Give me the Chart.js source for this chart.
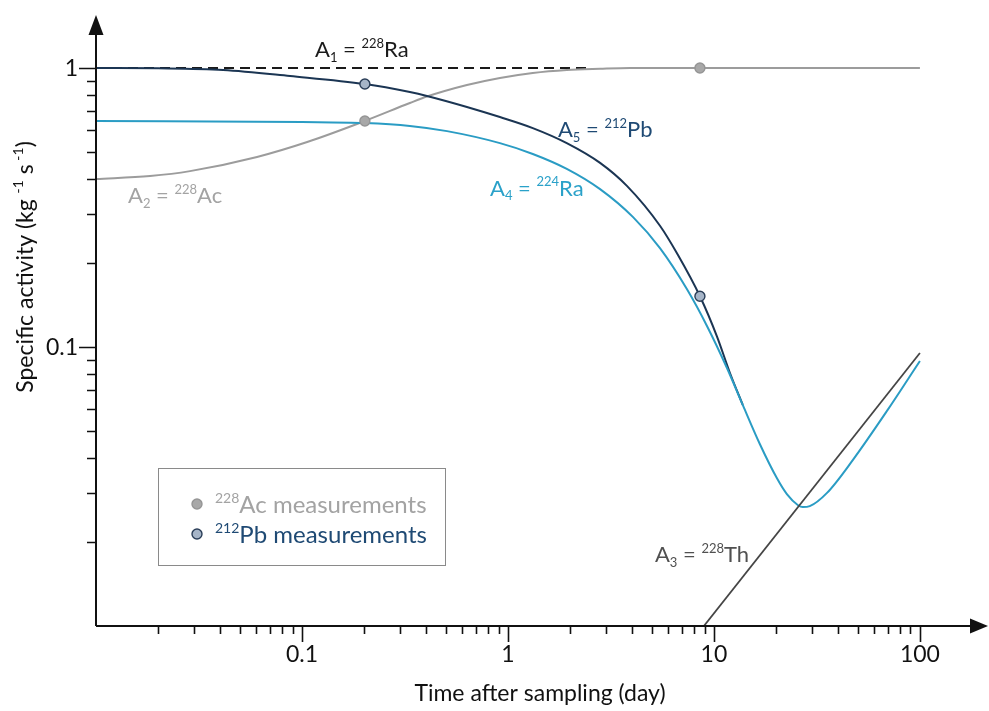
<!DOCTYPE html>
<html>
<head>
<meta charset="utf-8">
<script src="https://cdn.jsdelivr.net/npm/chart.js@4.4.1/dist/chart.umd.min.js"></script>
<style>
  html, body { margin: 0; padding: 0; background: #ffffff; }
  #wrap { width: 989px; height: 711px; position: relative; }
</style>
</head>
<body>
<div id="wrap"><canvas id="chart" width="989" height="711"></canvas></div>
<script>
// ---- Activity curves (time in days, specific activity) ----
const ra228Days = [0.01, 2.4];
const ra228Act  = [1.0, 1.0];

const ac228Days = [0.01, 0.0183, 0.0286, 0.0605, 0.106, 0.202, 0.334, 0.404, 0.632, 0.914, 1.32, 1.93, 2.8, 3.91, 8.55, 100];
const ac228Act  = [0.4, 0.41, 0.427, 0.48, 0.543, 0.646, 0.749, 0.79, 0.869, 0.921, 0.96, 0.984, 0.994, 1.0, 1.0, 1.0];

const pb212Days = [0.01, 0.02, 0.0414, 0.0875, 0.202, 0.334, 0.404, 0.632, 0.914, 1.32, 1.93, 2.8, 3.78, 5.47, 6.68, 8.55, 10.35, 11.96, 13.8];
const pb212Act  = [1.0, 0.9975, 0.984, 0.936, 0.876, 0.82, 0.794, 0.725, 0.667, 0.609, 0.538, 0.457, 0.378, 0.272, 0.214, 0.152, 0.109, 0.0807, 0.062];

const ra224Days = [0.01, 0.1, 0.202, 0.334, 0.506, 0.914, 1.32, 1.93, 2.8, 4.05, 5.47, 7.4, 9.25, 11.57, 13.8, 16.7, 20.2, 22.6, 25.6, 27.0, 29.2, 35.4, 47.3, 69.2, 100];
const ra224Act  = [0.646, 0.64, 0.635, 0.62, 0.594, 0.538, 0.492, 0.435, 0.368, 0.292, 0.226, 0.161, 0.119, 0.0841, 0.062, 0.0449, 0.0339, 0.0297, 0.0271, 0.0267, 0.0269, 0.03, 0.0394, 0.059, 0.0891];

const th228Days = [8.94, 100];
const th228Act  = [0.01, 0.0952];

// ---- Measurements ----
const ac228MeasDays = [0.202, 8.55];
const ac228MeasAct  = [0.646, 1.0];
const pb212MeasDays = [0.202, 8.55];
const pb212MeasAct  = [0.876, 0.152];

// ---- Axis ticks ----
const xMajorTicks  = [0.1, 1, 10, 100];
const xTickLabels  = ['0.1', '1', '10', '100'];
const xMinorDecades = [0.01, 0.1, 1, 10];
const yMajorTicks  = [0.1, 1];
const yTickLabels  = ['0.1', '1'];
const yMinorDecades = [0.01, 0.1];
const minorSteps = [2, 3, 4, 5, 6, 7, 8, 9];

const xTitle = 'Time after sampling (day)';

const toPoints = (xs, ys) => xs.map((x, i) => ({ x: x, y: ys[i] }));

// ---- Colours ----
const C = {
  ra228: '#1a1a1a',
  ac228: '#9c9c9c',
  ac228Text: '#a3a3a3',
  pb212: '#1b3553',
  pb212Text: '#1f4a74',
  ra224: '#2a9cc4',
  ra224Text: '#2aa1c9',
  th228: '#454545',
  th228Text: '#505050',
  axis: '#111111'
};

const FAMILY = 'Lato, "Open Sans", sans-serif';
const fontOf = (size) => size + 'px ' + FAMILY;

// Text pieces with super/subscripts: [{t, sup|sub}]
function richWidth(ctx, parts, size) {
  const small = Math.round(size * 0.6);
  let w = 0;
  parts.forEach(p => {
    ctx.font = fontOf(p.sup || p.sub ? small : size);
    w += ctx.measureText(p.t).width;
  });
  return w;
}
function drawRich(ctx, x, y, parts, size, color, align) {
  const small = Math.round(size * 0.6);
  let cx = x;
  if (align === 'center') cx = x - richWidth(ctx, parts, size) / 2;
  ctx.fillStyle = color;
  ctx.textAlign = 'left';
  ctx.textBaseline = 'alphabetic';
  parts.forEach(p => {
    const s = (p.sup || p.sub) ? small : size;
    ctx.font = fontOf(s);
    const dy = p.sup ? -size * 0.42 : (p.sub ? size * 0.22 : 0);
    ctx.fillText(p.t, cx, y + dy);
    cx += ctx.measureText(p.t).width;
  });
}

// Curve labels anchored in data coordinates (left edge, baseline)
const curveLabels = [
  { at: { x: 0.1157, y: 1.095 }, color: C.ra228,
    parts: [{ t: 'A' }, { t: '1', sub: true }, { t: ' = ' }, { t: '228', sup: true }, { t: 'Ra' }] },
  { at: { x: 0.0143, y: 0.327 }, color: C.ac228Text,
    parts: [{ t: 'A' }, { t: '2', sub: true }, { t: ' = ' }, { t: '228', sup: true }, { t: 'Ac' }] },
  { at: { x: 5.17, y: 0.01699 }, color: C.th228Text,
    parts: [{ t: 'A' }, { t: '3', sub: true }, { t: ' = ' }, { t: '228', sup: true }, { t: 'Th' }] },
  { at: { x: 0.818, y: 0.349 }, color: C.ra224Text,
    parts: [{ t: 'A' }, { t: '4', sub: true }, { t: ' = ' }, { t: '224', sup: true }, { t: 'Ra' }] },
  { at: { x: 1.748, y: 0.565 }, color: C.pb212Text,
    parts: [{ t: 'A' }, { t: '5', sub: true }, { t: ' = ' }, { t: '212', sup: true }, { t: 'Pb' }] }
];

const legendItems = [
  { fill: '#a8a8a8', border: '#959595', color: C.ac228Text,
    parts: [{ t: '228', sup: true }, { t: 'Ac measurements' }] },
  { fill: '#a6b5c8', border: '#2a3e58', color: C.pb212Text,
    parts: [{ t: '212', sup: true }, { t: 'Pb measurements' }] }
];

const yTitleParts = [{ t: 'Specific activity (kg ' }, { t: '-1', sup: true }, { t: ' s' }, { t: ' -1', sup: true }, { t: ')' }];

// Axes, ticks, arrows, labels and legend drawn over the plot
const decorPlugin = {
  id: 'decor',
  afterDatasetsDraw(chart) {
    const ctx = chart.ctx;
    const xs = chart.scales.x, ys = chart.scales.y;
    const a = chart.chartArea;
    ctx.save();

    // axis lines
    ctx.strokeStyle = C.axis;
    ctx.lineWidth = 2;
    ctx.beginPath();
    ctx.moveTo(a.left, a.bottom);
    ctx.lineTo(a.right, a.bottom);
    ctx.moveTo(a.left, a.bottom);
    ctx.lineTo(a.left, a.top);
    ctx.stroke();

    // arrow heads
    ctx.fillStyle = C.axis;
    ctx.beginPath();
    ctx.moveTo(a.left, a.top - 19);
    ctx.lineTo(a.left - 7.5, a.top + 1);
    ctx.lineTo(a.left + 7.5, a.top + 1);
    ctx.closePath();
    ctx.fill();
    ctx.beginPath();
    ctx.moveTo(a.right + 16, a.bottom);
    ctx.lineTo(a.right - 2, a.bottom - 7.5);
    ctx.lineTo(a.right - 2, a.bottom + 7.5);
    ctx.closePath();
    ctx.fill();

    // ticks
    ctx.lineWidth = 1.6;
    ctx.beginPath();
    xMinorDecades.forEach(d => minorSteps.forEach(m => {
      const px = Math.round(xs.getPixelForValue(d * m)) + 0.5;
      ctx.moveTo(px, a.bottom); ctx.lineTo(px, a.bottom + 8);
    }));
    xMajorTicks.forEach(v => {
      const px = Math.round(xs.getPixelForValue(v)) + 0.5;
      ctx.moveTo(px, a.bottom); ctx.lineTo(px, a.bottom + 16);
    });
    yMinorDecades.forEach(d => minorSteps.forEach(m => {
      const py = Math.round(ys.getPixelForValue(d * m)) + 0.5;
      ctx.moveTo(a.left, py); ctx.lineTo(a.left - 9, py);
    }));
    yMajorTicks.forEach(v => {
      const py = Math.round(ys.getPixelForValue(v)) + 0.5;
      ctx.moveTo(a.left, py); ctx.lineTo(a.left - 17, py);
    });
    ctx.stroke();

    // tick labels
    ctx.fillStyle = C.axis;
    ctx.font = fontOf(23);
    ctx.textBaseline = 'alphabetic';
    ctx.textAlign = 'center';
    xMajorTicks.forEach((v, i) => {
      ctx.fillText(xTickLabels[i], xs.getPixelForValue(v), a.bottom + 36);
    });
    ctx.textAlign = 'right';
    yMajorTicks.forEach((v, i) => {
      ctx.fillText(yTickLabels[i], a.left - 18, ys.getPixelForValue(v) + 8);
    });

    // axis titles
    ctx.textAlign = 'center';
    ctx.font = fontOf(23);
    ctx.fillText(xTitle, 540, 701);
    ctx.save();
    ctx.translate(33, 267);
    ctx.rotate(-Math.PI / 2);
    drawRich(ctx, 0, 0, yTitleParts, 23, C.axis, 'center');
    ctx.restore();

    // curve labels
    curveLabels.forEach(l => {
      drawRich(ctx, xs.getPixelForValue(l.at.x), ys.getPixelForValue(l.at.y), l.parts, 22, l.color, 'left');
    });

    // legend
    ctx.strokeStyle = '#8a8a8a';
    ctx.lineWidth = 1;
    ctx.fillStyle = '#ffffff';
    ctx.fillRect(158.5, 468.5, 287, 97);
    ctx.strokeRect(158.5, 468.5, 287, 97);
    legendItems.forEach((it, i) => {
      const cy = 504 + i * 30;
      ctx.beginPath();
      ctx.arc(197, cy, 5, 0, Math.PI * 2);
      ctx.fillStyle = it.fill;
      ctx.fill();
      ctx.lineWidth = 1.4;
      ctx.strokeStyle = it.border;
      ctx.stroke();
      drawRich(ctx, 215, cy + 9, it.parts, 24, it.color, 'left');
    });

    ctx.restore();
  }
};

const lineDs = (label, xs, ys, color, order, extra) => Object.assign({
  label: label,
  data: toPoints(xs, ys),
  showLine: true,
  borderColor: color,
  backgroundColor: color,
  borderWidth: 2,
  pointRadius: 0,
  pointHoverRadius: 0,
  cubicInterpolationMode: 'monotone',
  order: order
}, extra || {});

const pointDs = (label, xs, ys, fill, border, order) => ({
  label: label,
  data: toPoints(xs, ys),
  showLine: false,
  pointRadius: 5,
  pointBorderWidth: 1.4,
  pointBackgroundColor: fill,
  pointBorderColor: border,
  order: order
});

new Chart(document.getElementById('chart'), {
  type: 'scatter',
  data: {
    datasets: [
      lineDs('228Ra', ra228Days, ra228Act, C.ra228, 7, { borderDash: [10, 6] }),
      lineDs('228Ac', ac228Days, ac228Act, C.ac228, 6),
      lineDs('212Pb', pb212Days, pb212Act, C.pb212, 5),
      lineDs('224Ra', ra224Days, ra224Act, C.ra224, 4),
      lineDs('228Th', th228Days, th228Act, C.th228, 3, { cubicInterpolationMode: 'default', borderWidth: 1.8 }),
      pointDs('228Ac measurements', ac228MeasDays, ac228MeasAct, '#a8a8a8', '#959595', 2),
      pointDs('212Pb measurements', pb212MeasDays, pb212MeasAct, '#a6b5c8', '#2a3e58', 1)
    ]
  },
  options: {
    responsive: false,
    animation: false,
    devicePixelRatio: 1,
    layout: { padding: { left: 96, right: 17, top: 34, bottom: 85 } },
    scales: {
      x: { type: 'logarithmic', min: 0.01, max: 179, display: false },
      y: { type: 'logarithmic', min: 0.01, max: 1.324, display: false }
    },
    plugins: { legend: { display: false }, tooltip: { enabled: false } },
    events: []
  },
  plugins: [decorPlugin]
});
</script>
</body>
</html>
